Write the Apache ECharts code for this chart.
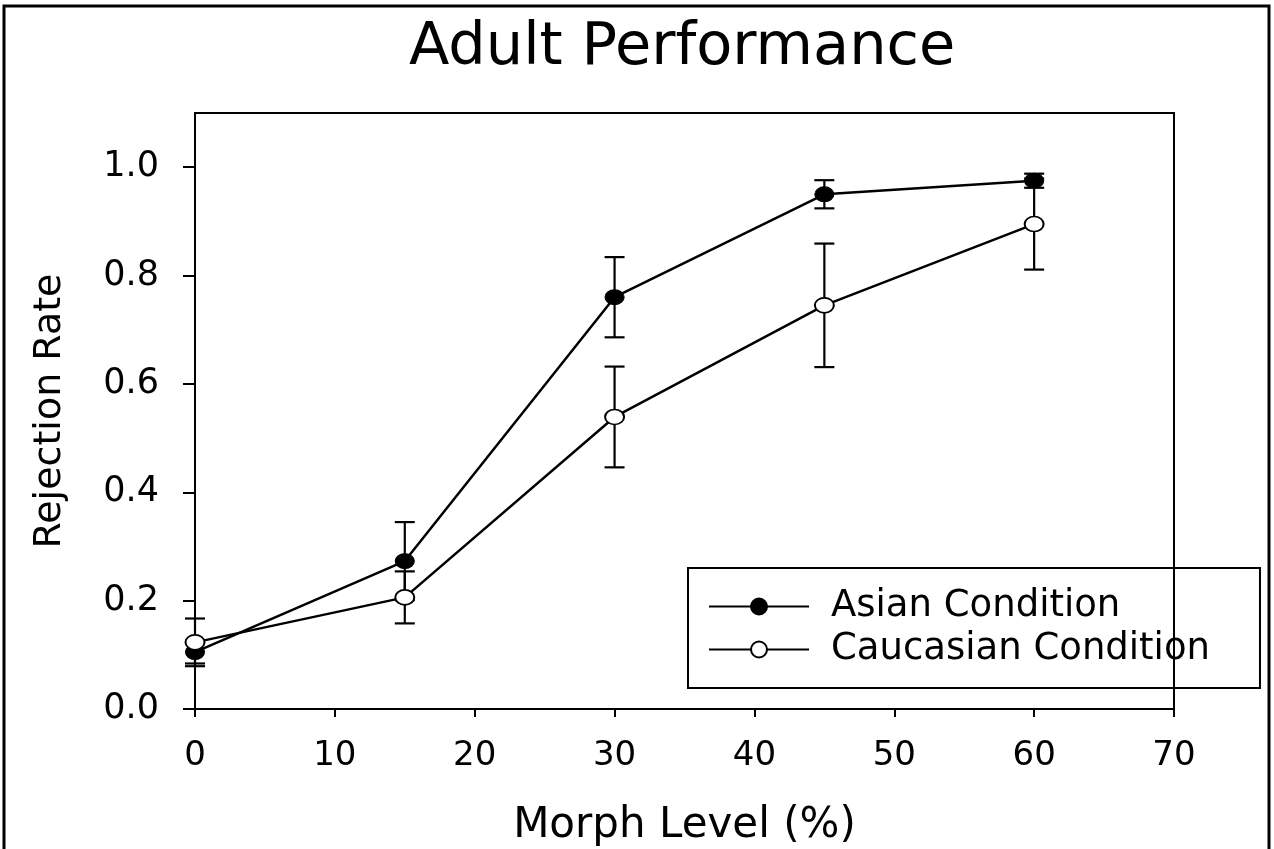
<!DOCTYPE html>
<html>
<head>
<meta charset="utf-8">
<style>
  html, body { margin: 0; padding: 0; background: #fff; }
  #chart { width: 1274px; height: 849px; }
</style>
<script src="https://cdn.jsdelivr.net/npm/echarts@6/dist/echarts.min.js"></script>
</head>
<body>
<div id="chart"></div>
<script>
// data
const morphLevels = [0, 15, 30, 45, 60]
const asianMean = [0.105, 0.273, 0.760, 0.950, 0.975]
const asianErr = [0.021, 0.072, 0.074, 0.026, 0.013]
const caucasianMean = [0.123, 0.206, 0.539, 0.745, 0.895]
const caucasianErr = [0.044, 0.048, 0.093, 0.114, 0.084]
const yTicks = [0, 0.2, 0.4, 0.6, 0.8, 1.0]

const FONT = 'DejaVu Sans'

function pairs(xs, ys) {
  return xs.map((x, i) => [x, ys[i]])
}

function errData(xs, ys, es) {
  return xs.map((x, i) => [x, ys[i], es[i]])
}

// vertical error bar with caps
function renderErr(params, api) {
  const x = api.value(0), y = api.value(1), e = api.value(2)
  const top = api.coord([x, y + e])
  const bot = api.coord([x, y - e])
  const hw = 10
  const style = { stroke: '#000', lineWidth: 2.2 }
  return {
    type: 'group',
    children: [
      { type: 'line', shape: { x1: top[0], y1: top[1], x2: bot[0], y2: bot[1] }, style },
      { type: 'line', shape: { x1: top[0] - hw, y1: top[1], x2: top[0] + hw, y2: top[1] }, style },
      { type: 'line', shape: { x1: bot[0] - hw, y1: bot[1], x2: bot[0] + hw, y2: bot[1] }, style }
    ]
  }
}

const chart = echarts.init(document.getElementById('chart'))

chart.setOption({
  animation: false,
  backgroundColor: '#fff',
  title: {
    text: 'Adult Performance',
    left: 404,
    top: 14,
    textStyle: { fontFamily: FONT, fontSize: 59, fontWeight: 'normal', color: '#000' }
  },
  grid: {
    left: 195, top: 113, right: 100, bottom: 140,
    outerBoundsMode: 'none',
    containLabel: false,
    show: true, borderColor: '#000', borderWidth: 2
  },
  legend: {
    orient: 'vertical',
    left: 688, top: 568,
    padding: [20, 50, 20, 20],
    itemWidth: 100, itemHeight: 20, itemGap: 6,
    borderColor: '#000', borderWidth: 2,
    textStyle: { fontFamily: FONT, fontSize: 37, color: '#000', padding: [0, 0, 0, 17] },
    data: ['Asian Condition', 'Caucasian Condition']
  },
  xAxis: {
    type: 'value',
    min: 0, max: 70, interval: 10,
    name: 'Morph Level (%)',
    nameLocation: 'middle',
    nameGap: 96,
    nameTextStyle: { fontFamily: FONT, fontSize: 42, color: '#000' },
    axisLine: { lineStyle: { color: '#000', width: 2 } },
    axisTick: { inside: false, length: 8, lineStyle: { color: '#000', width: 2 } },
    axisLabel: { fontFamily: FONT, fontSize: 34, color: '#000', margin: 30 },
    splitLine: { show: false }
  },
  yAxis: {
    type: 'value',
    min: 0, max: 1.1,
    name: 'Rejection Rate',
    nameLocation: 'middle',
    nameGap: 126,
    nameTextStyle: { fontFamily: FONT, fontSize: 38, color: '#000' },
    axisLine: { show: true, lineStyle: { color: '#000', width: 2 } },
    axisTick: { show: true, inside: false, length: 12, customValues: yTicks, lineStyle: { color: '#000', width: 2 } },
    axisLabel: {
      fontFamily: FONT, fontSize: 35, color: '#000', margin: 36,
      customValues: yTicks,
      formatter: v => v.toFixed(1)
    },
    splitLine: { show: false }
  },
  graphic: [
    {
      type: 'rect',
      shape: { x: 4, y: 6, width: 1265, height: 860 },
      style: { fill: null, stroke: '#000', lineWidth: 3 },
      silent: true, z: 100
    }
  ],
  series: [
    {
      type: 'custom',
      renderItem: renderErr,
      data: errData(morphLevels, asianMean, asianErr),
      z: 1
    },
    {
      type: 'custom',
      renderItem: renderErr,
      data: errData(morphLevels, caucasianMean, caucasianErr),
      z: 1
    },
    {
      name: 'Asian Condition',
      type: 'line',
      data: pairs(morphLevels, asianMean),
      symbol: 'circle',
      symbolSize: [19, 15],
      lineStyle: { color: '#000', width: 2.5 },
      itemStyle: { color: '#000', borderColor: '#000', borderWidth: 1 },
      z: 3
    },
    {
      name: 'Caucasian Condition',
      type: 'line',
      data: pairs(morphLevels, caucasianMean),
      symbol: 'circle',
      symbolSize: [19, 15],
      lineStyle: { color: '#000', width: 2.5 },
      itemStyle: { color: '#fff', borderColor: '#000', borderWidth: 1.8 },
      z: 4
    }
  ]
})
</script>
</body>
</html>
